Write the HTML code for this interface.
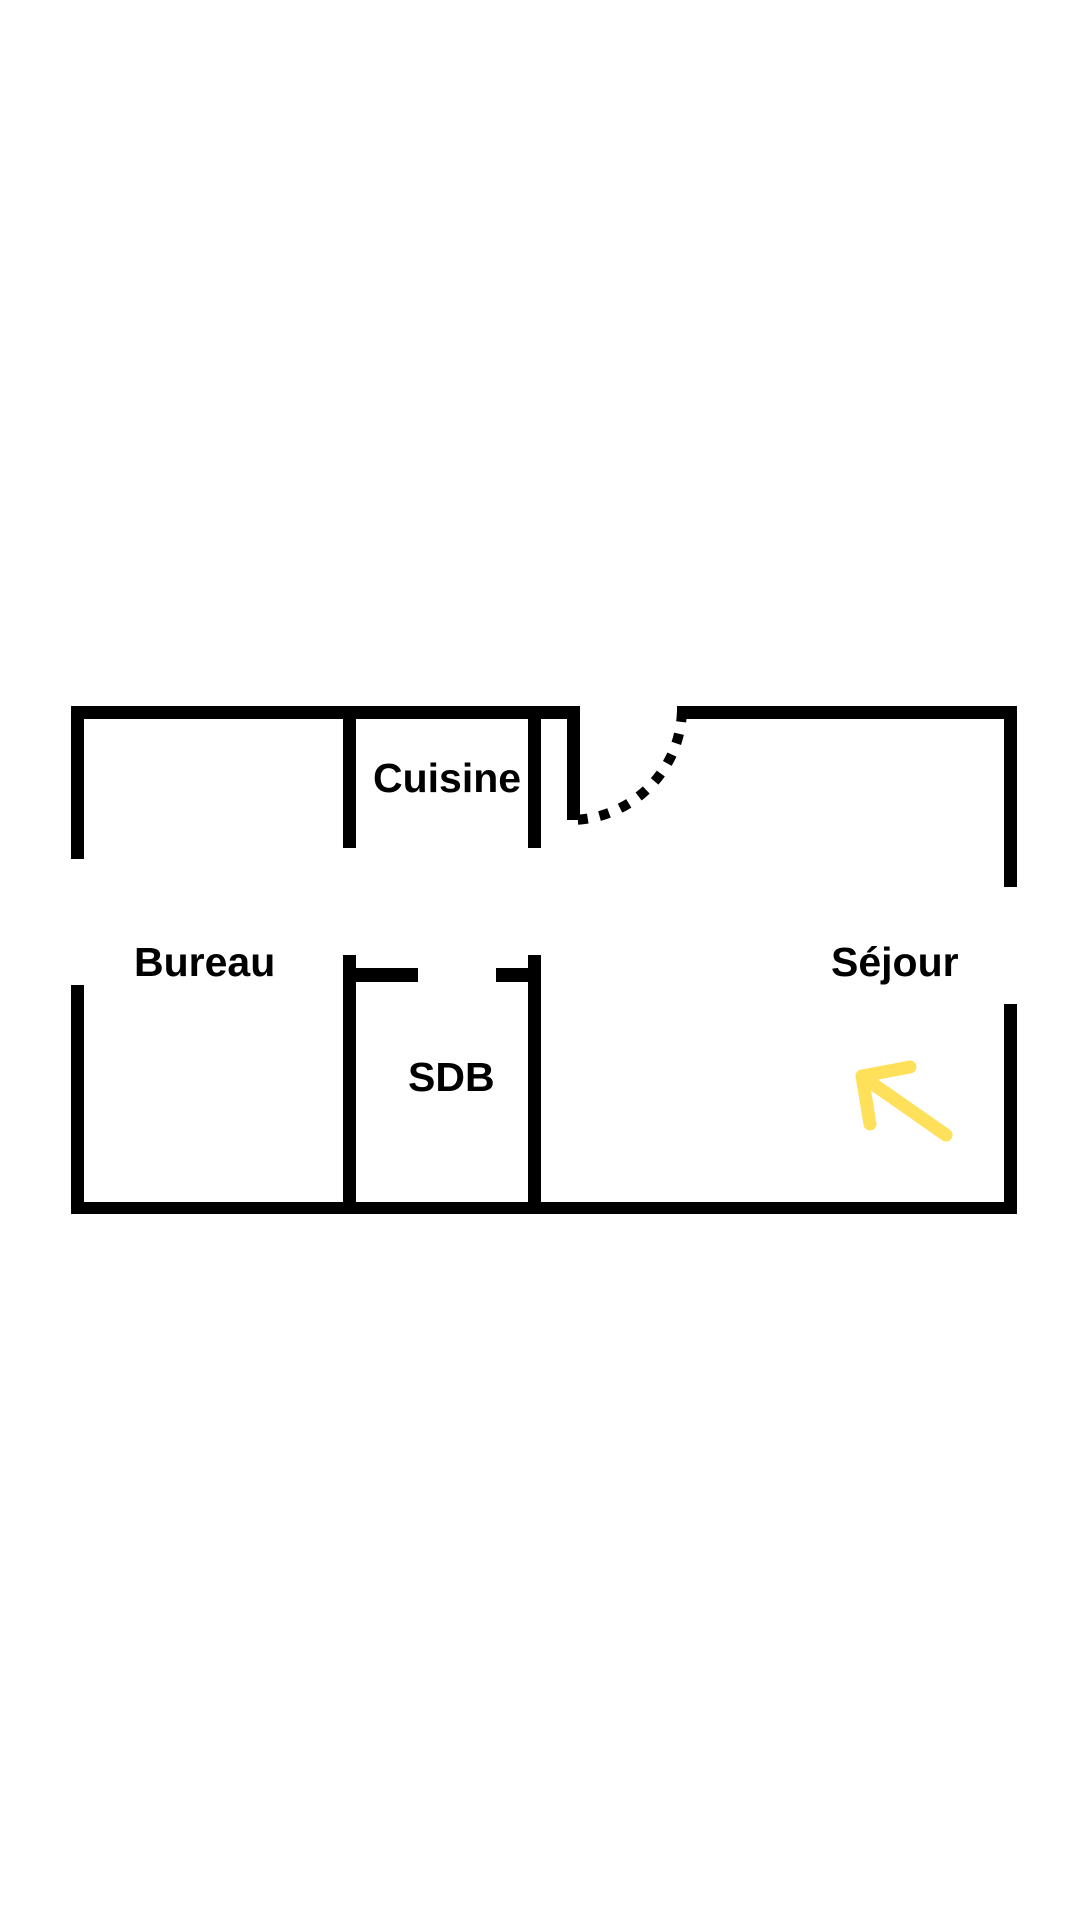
<!DOCTYPE html>
<html><head><meta charset="utf-8"><style>
html,body{margin:0;padding:0;background:#fff;}
svg{display:block}
text{font-family:"Liberation Sans",sans-serif;font-weight:bold;fill:#000;}
</style></head><body>
<svg width="1080" height="1920" viewBox="0 0 1080 1920">
<rect width="1080" height="1920" fill="#fff"/>
<g fill="#000">
<rect x="71" y="706" width="509" height="13"/>
<rect x="677" y="706" width="340" height="13"/>
<rect x="71" y="1202" width="946" height="12"/>
<rect x="71" y="706" width="13" height="153"/>
<rect x="71" y="985" width="13" height="229"/>
<rect x="1004" y="706" width="13" height="181"/>
<rect x="1004" y="1004" width="13" height="210"/>
<rect x="343" y="706" width="13" height="142"/>
<rect x="343" y="955" width="13" height="259"/>
<rect x="528" y="706" width="13" height="142"/>
<rect x="528" y="955" width="13" height="259"/>
<rect x="567" y="706" width="13" height="114"/>
<rect x="356" y="968" width="62" height="14"/>
<rect x="496" y="968" width="32" height="14"/>
</g>
<path d="M682 708 A112 112 0 0 1 570 820" fill="none" stroke="#000" stroke-width="10" stroke-dasharray="10 12" stroke-dashoffset="-4"/>
<text x="373" y="792" font-size="41">Cuisine</text>
<text x="134" y="976" font-size="41">Bureau</text>
<text x="408" y="1091" font-size="41">SDB</text>
<text x="831" y="976" font-size="41">Séjour</text>
<g stroke="#FFE05A" stroke-width="13" stroke-linecap="round" stroke-linejoin="round" fill="none">
<line x1="946" y1="1135" x2="863" y2="1077"/>
<polyline points="910,1067 862,1076 870,1124"/>
</g>
</svg>
</body></html>
